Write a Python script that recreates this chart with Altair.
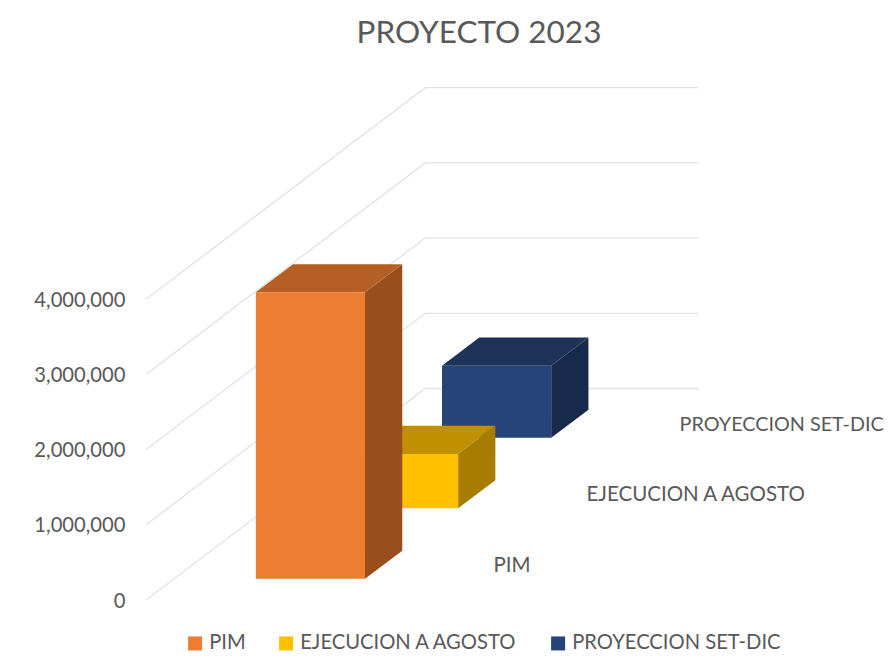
import altair as alt
import pandas as pd

title_text = "PROYECTO 2023"
categories = ["PIM", "EJECUCION A AGOSTO", "PROYECCION SET-DIC"]
values = [3810000, 723000, 958000]
front_colors = ["#ED7D31", "#FFC000", "#264478"]
top_colors = ["#B65F24", "#C09000", "#1D335A"]
side_colors = ["#9A4E1C", "#A67D00", "#182A4C"]
ticks = [0, 1000000, 2000000, 3000000, 4000000]

FONT = "Lato"
TEXT = "#595959"
# oblique projection: one depth slot moves the drawing right and up
DEPTH_X = 0.341        # category-widths per depth slot
DEPTH_V = 937500       # value units per depth slot
BAR_U = (0.3, 0.7)
BAR_D = (0.3, 0.7)
LABEL_U = 1.102

x_scale = alt.Scale(domain=[0, 738 / 273], range=[0, 738], nice=False, zero=False)
y_scale = alt.Scale(domain=[0, 540 / 75.2 * 1e6], range=[540, 0], nice=False, zero=False)
y_axis = alt.Axis(
    title=None,
    values=ticks,
    format=",.0f",
    domain=False,
    ticks=False,
    grid=False,
    labelPadding=21,
    labelOffset=1,
    labelFont=FONT,
    labelFontSize=20.2,
    labelColor=TEXT,
)


def px(u, d):
    return u + d * DEPTH_X


def vy(v, d):
    return v + d * DEPTH_V


X = alt.X("x:Q", scale=x_scale, axis=None)
X2 = alt.X2("x2:Q")
Y = alt.Y("y:Q", scale=y_scale, axis=y_axis)
Y2 = alt.Y2("y2:Q")

# wall and floor gridlines
grid_rows = []
for t in ticks:
    for i, (u, d) in enumerate([(0, 0), (0, 3), (1, 3)]):
        grid_rows.append({"tick": t, "i": i, "x": px(u, d), "y": vy(t, d)})
grid = alt.Chart(pd.DataFrame(grid_rows)).mark_line(color="#E2E2E2", strokeWidth=1.3).encode(
    x=X,
    y=Y,
    detail="tick:N",
    order="i:Q",
)

layers = [grid]
for k in [2, 1, 0]:
    name, v = categories[k], values[k]
    d0, d1 = k + BAR_D[0], k + BAR_D[1]
    u0, u1 = BAR_U
    side = pd.DataFrame(
        {
            "x": [px(u1, d0), px(u1, d1)],
            "y": [vy(0, d0), vy(0, d1)],
            "y2": [vy(v, d0), vy(v, d1)],
        }
    )
    top = pd.DataFrame(
        {
            "y": [vy(v, d0), vy(v, d1)],
            "x": [px(u0, d0), px(u0, d1)],
            "x2": [px(u1, d0), px(u1, d1)],
        }
    )
    front = pd.DataFrame(
        {
            "serie": [name],
            "x": [px(u0, d0)],
            "x2": [px(u1, d0)],
            "y": [vy(0, d0)],
            "y2": [vy(v, d0)],
        }
    )
    layers.append(alt.Chart(side).mark_area(color=side_colors[k]).encode(x=X, y=Y, y2=Y2))
    layers.append(
        alt.Chart(top).mark_area(color=top_colors[k], orient="horizontal").encode(y=Y, x=X, x2=X2)
    )
    layers.append(
        alt.Chart(front)
        .mark_rect()
        .encode(
            x=X,
            x2=X2,
            y=Y,
            y2=Y2,
            color=alt.Color(
                "serie:N",
                scale=alt.Scale(domain=categories, range=front_colors),
                legend=alt.Legend(
                    title=None,
                    orient="none",
                    legendX=39,
                    legendY=573,
                    direction="horizontal",
                    columns=3,
                    symbolType="square",
                    symbolSize=196,
                    symbolStrokeWidth=0,
                    columnPadding=30,
                    labelFont=FONT,
                    labelFontSize=20.2,
                    labelColor=TEXT,
                    labelOffset=4,
                    labelLimit=400,
                ),
            ),
        )
    )

labels = pd.DataFrame(
    {
        "serie": categories,
        "x": [px(LABEL_U, k + 0.5) for k in range(3)],
        "y": [vy(0, k + 0.5) for k in range(3)],
    }
)
layers.append(
    alt.Chart(labels.iloc[:2])
    .mark_text(align="left", baseline="middle", dy=1, font=FONT, fontSize=20.5, color=TEXT)
    .encode(x=X, y=Y, text="serie:N")
)
layers.append(
    alt.Chart(labels.iloc[2:])
    .mark_text(align="left", baseline="middle", dy=1, font=FONT, fontSize=19.8, color=TEXT)
    .encode(x=X, y=Y, text="serie:N")
)

chart = (
    alt.layer(*layers)
    .properties(
        width=738,
        height=540,
        padding={"left": 138, "right": 0, "top": 52, "bottom": 55},
        autosize=alt.AutoSizeParams(type="none"),
        title=alt.TitleParams(
            title_text,
            font=FONT,
            fontSize=31.5,
            fontWeight="normal",
            color=TEXT,
            anchor="middle",
            dx=-36,
            offset=11,
        ),
    )
    .configure_view(stroke=None)
)

chart.save("out.html", embed_options={"renderer": "svg", "actions": False})
